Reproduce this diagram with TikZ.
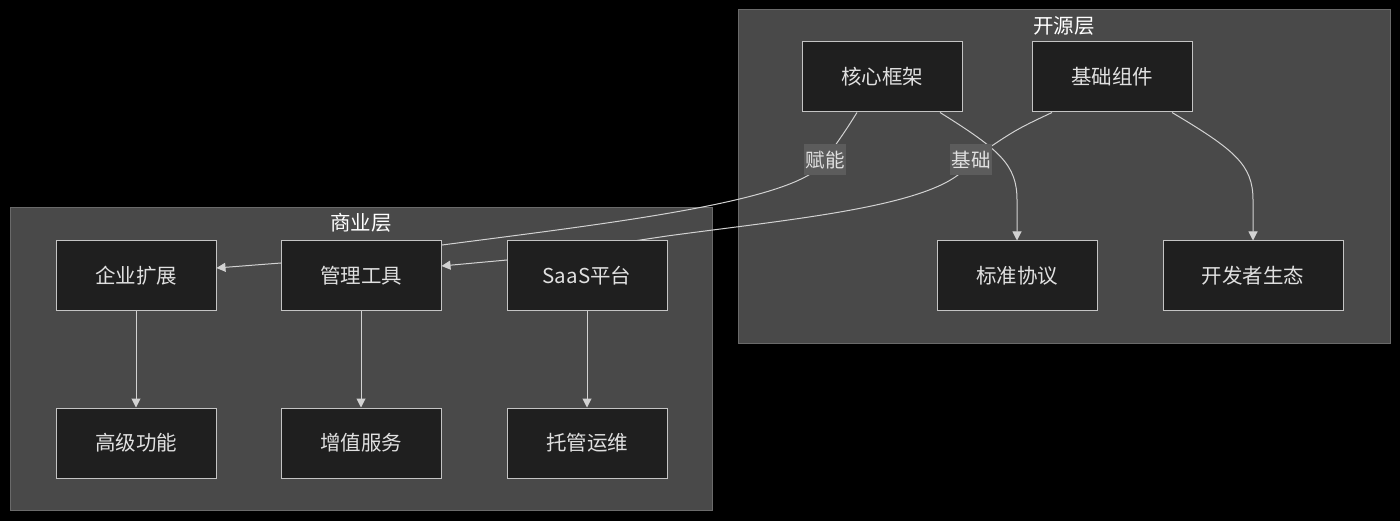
\documentclass[tikz,border=0pt]{standalone}
\usepackage{fontspec}
\setmainfont{Noto Sans CJK SC}
\usetikzlibrary{arrows.meta}

\definecolor{clusterbg}{HTML}{494949}
\definecolor{clusterline}{HTML}{6A6A6A}
\definecolor{boxbg}{HTML}{1F1F1F}
\definecolor{boxline}{HTML}{C4C4C4}
\definecolor{textgray}{HTML}{E0E0E0}
\definecolor{flowgray}{HTML}{D2D2D2}
\definecolor{labelbg}{HTML}{5C5C5C}

\pgfdeclarelayer{background}
\pgfdeclarelayer{edges}
\pgfsetlayers{background,edges,main}

\begin{document}
\begin{tikzpicture}[x=1pt, y=-1pt,
    cluster/.style={fill=clusterbg, draw=clusterline, line width=1pt},
    clustertitle/.style={text=white, font=\fontsize{20.5pt}{24pt}\selectfont},
    box/.style={draw=boxline, fill=boxbg, line width=1pt, text=textgray,
        minimum width=160pt, minimum height=70pt, inner sep=0pt,
        font=\fontsize{20.5pt}{24pt}\selectfont},
    flow/.style={draw=flowgray, line width=1pt,
        -{Triangle[length=9pt, width=9pt]}},
    flowlabel/.style={fill=labelbg, text=textgray, inner sep=0pt,
        minimum width=42pt, minimum height=31pt,
        font=\fontsize{19.5pt}{23pt}\selectfont}
    ]
    \useasboundingbox (0,0) rectangle (1400,521);

    % clusters
    \begin{pgfonlayer}{background}
        \fill[black] (0,0) rectangle (1400,521);
        \draw[cluster] (738,10) rectangle (1390,343);
        \draw[cluster] (10,208) rectangle (712,510);
    \end{pgfonlayer}
    \node[clustertitle] (opentitle) at (1064,26) {开源层};
    \node[clustertitle] (bizttitle) at (361,223) {商业层};

    % open source layer
    \node[box] (core) at (882,77) {核心框架};
    \node[box] (base) at (1112,77) {基础组件};
    \node[box] (std) at (1017,276) {标准协议};
    \node[box, minimum width=180pt] (dev) at (1253,276) {开发者生态};

    % business layer
    \node[box] (ent) at (136,276) {企业扩展};
    \node[box] (mgmt) at (361,276) {管理工具};
    \node[box] (saas) at (587,276) {SaaS平台};
    \node[box] (adv) at (136,443) {高级功能};
    \node[box] (vas) at (361,443) {增值服务};
    \node[box] (ops) at (587,443) {托管运维};

    % connectors
    \begin{pgfonlayer}{edges}
        \draw[flow] ([xshift=-25pt]core.south) .. controls (846,130) .. (825,160)
            .. controls (805,200) and (620,222) .. (442,245) -- (281,263)
            -- ([yshift=8pt]ent.east);
        \draw[flow] ([xshift=-60pt]base.south) .. controls (1015,130) .. (971,160)
            .. controls (950,205) and (800,218) .. (667,236) -- (507,260)
            -- ([yshift=10pt]mgmt.east);
        \draw[flow] ([xshift=58pt]core.south) .. controls (1000,150) and (1017,165) .. (1017,200)
            -- (std.north);
        \draw[flow] ([xshift=60pt]base.south) .. controls (1235,150) and (1253,165) .. (1253,200)
            -- (dev.north);
        \draw[flow] (ent) -- (adv);
        \draw[flow] (mgmt) -- (vas);
        \draw[flow] (saas) -- (ops);
        \node[flowlabel] (empower) at (825,160) {赋能};
        \node[flowlabel] (basis) at (971,160) {基础};
    \end{pgfonlayer}
\end{tikzpicture}
\end{document}
